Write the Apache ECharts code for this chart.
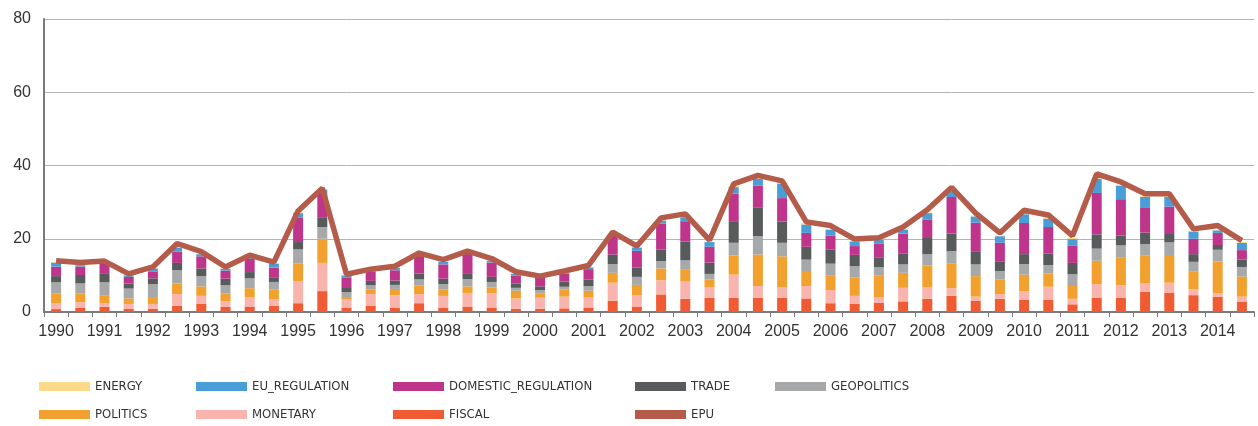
<!DOCTYPE html>
<html>
<head>
<meta charset="utf-8">
<script src="https://cdn.jsdelivr.net/npm/echarts@6/dist/echarts.min.js"></script>
<style>
html,body{margin:0;padding:0;background:#fff;}
#chart{width:1258px;height:426px;}
</style>
</head>
<body>
<div id="chart"></div>
<script>
var years = [1990,1991,1992,1993,1994,1995,1996,1997,1998,1999,2000,2001,2002,2003,2004,2005,2006,2007,2008,2009,2010,2011,2012,2013,2014];
var halves = ['H1','H2'];

var fiscal = [0.8,1.2,1.4,0.9,0.9,1.7,2.3,1.4,1.5,1.7, 2.4,5.7,1.2,1.7,1.2,2.4,1.2,1.5,1.2,0.9, 0.9,1.0,1.1,3.1,1.5,4.8,3.6,3.9,3.9,3.9, 3.9,3.7,2.4,2.3,2.5,2.9,3.6,4.4,3.1,3.6, 3.3,3.3,2.1,3.9,3.9,5.5,5.3,4.6,4.2,2.8];
var monetary = [1.6,1.5,1.0,1.3,1.3,3.2,2.1,1.6,2.6,1.7, 6.0,7.7,2.2,3.2,3.4,2.5,3.2,3.7,3.9,2.8, 3.0,3.2,3.0,4.9,3.1,3.9,4.7,2.9,6.3,3.2, 2.9,3.4,3.6,2.1,1.5,3.7,3.2,2.1,1.1,1.3, 2.4,3.6,1.5,3.7,3.4,2.3,2.7,1.6,0.9,1.4];
var politics = [2.7,2.4,2.2,1.5,1.9,2.9,2.6,2.1,2.4,2.7, 4.9,6.6,0.7,1.3,1.7,2.4,1.8,1.8,1.6,2.1, 1.2,2.0,1.7,2.7,2.8,3.2,3.4,2.1,5.2,8.6, 8.4,4.1,3.9,5.0,5.9,4.1,5.9,6.7,5.6,4.0, 4.5,3.6,3.5,6.4,7.5,7.7,7.3,4.8,8.7,5.5];
var geopolitics = [3.0,2.7,3.5,2.7,3.5,3.6,2.8,2.2,2.7,2.1, 3.8,3.2,1.3,1.1,1.1,1.6,1.4,2.0,1.5,0.8, 0.9,0.7,1.3,2.4,2.2,2.0,2.4,1.5,3.5,5.0, 3.7,3.1,3.3,3.1,2.3,2.3,3.1,3.4,3.2,2.3, 2.9,2.3,3.2,3.3,3.4,3.0,3.7,2.7,3.2,2.6];
var trade = [1.7,2.3,2.3,1.4,1.6,2.0,2.1,1.8,1.7,1.3, 2.0,2.5,1.4,1.2,1.2,1.6,1.5,1.4,1.4,1.2, 1.0,1.4,1.8,2.6,2.5,3.1,5.1,3.1,5.9,7.9, 5.8,3.5,3.8,3.1,2.6,2.9,4.4,4.8,3.6,2.5, 2.7,3.2,3.1,3.9,2.7,3.2,2.3,2.1,1.3,2.0];
var domesticRegulation = [2.6,2.3,3.1,1.8,1.9,3.1,3.3,2.2,3.6,2.6, 6.6,6.6,2.5,2.5,2.8,5.0,3.9,5.6,3.9,2.2, 2.3,2.2,2.8,5.3,4.6,7.1,5.6,4.3,7.5,5.9, 6.4,3.8,3.9,2.4,3.8,5.5,5.1,10.0,7.8,5.2, 8.5,7.2,4.8,11.3,9.9,6.9,7.5,4.2,3.3,2.6];
var euRegulation = [1.1,0.4,0.2,0.4,0.8,1.1,0.6,0.5,0.5,1.1, 1.3,1.1,0.7,0.3,0.7,0.2,0.7,0.3,0.5,0.4, 0.2,0.3,0.5,0.2,0.9,0.9,1.1,1.3,1.8,1.9, 4.0,2.3,1.6,1.3,1.2,1.1,1.7,1.4,1.7,1.8, 2.4,2.3,1.7,3.9,3.7,2.8,2.6,2.0,0.7,2.0];
var energy = [0.2,0.2,0.1,0.1,0.1,0.2,0.1,0.1,0.1,0.1, 0.2,0.2,0.1,0.1,0.1,0.1,0.1,0.1,0.1,0.1, 0.1,0.1,0.1,0.2,0.1,0.2,0.2,0.1,0.3,0.2, 0.3,0.3,0.2,0.2,0.2,0.2,0.2,0.3,0.2,0.2, 0.3,0.3,0.3,0.4,0.3,0.2,0.2,0.2,0.2,0.2];
var epu = [14.0,13.5,13.9,10.4,12.3,18.7,16.5,12.3,15.5,13.6, 27.6,33.8,10.3,11.7,12.5,16.1,14.3,16.6,14.6,11.0, 9.8,11.2,12.7,21.8,18.0,25.7,26.8,19.6,35.0,37.3, 35.8,24.6,23.6,19.9,20.3,23.2,27.9,34.0,27.0,21.6, 27.8,26.5,20.8,37.7,35.5,32.3,32.3,22.7,23.6,19.5];
var yTicks = [0,20,40,60,80];

var categories = [];
years.forEach(function(y){ halves.forEach(function(h){ categories.push(y + ' ' + h); }); });

var colors = {
  ENERGY:'#FDD98B', EU_REGULATION:'#4A9ED8', DOMESTIC_REGULATION:'#BF358C', TRADE:'#575B5B',
  GEOPOLITICS:'#A6A8AA', POLITICS:'#F3A12E', MONETARY:'#F9B4AD', FISCAL:'#F15B33', EPU:'#B45B4A'
};

var stackDefs = [
  ['FISCAL', fiscal], ['MONETARY', monetary], ['POLITICS', politics], ['GEOPOLITICS', geopolitics],
  ['TRADE', trade], ['DOMESTIC_REGULATION', domesticRegulation], ['EU_REGULATION', euRegulation], ['ENERGY', energy]
];

var series = stackDefs.map(function(d){
  return {name:d[0], type:'bar', stack:'epu', data:d[1], barWidth:10,
    itemStyle:{color:colors[d[0]]}, emphasis:{disabled:true}};
});
series.push({name:'EPU', type:'line', data:epu, symbol:'none', z:10,
  lineStyle:{color:colors.EPU, width:5.5}, itemStyle:{color:colors.EPU}, emphasis:{disabled:true}});

var legendFont = '"Liberation Sans Narrow","DejaVu Sans Condensed","Liberation Sans",sans-serif';
var legendPos = [
  ['ENERGY',39,380], ['EU_REGULATION',196,380], ['DOMESTIC_REGULATION',393,380], ['TRADE',635,380], ['GEOPOLITICS',775,380],
  ['POLITICS',39,408], ['MONETARY',196,408], ['FISCAL',393,408], ['EPU',635,408]
];
var legends = legendPos.map(function(p){
  return {data:[p[0]], left:p[1], top:p[2], padding:0, itemWidth:51, itemHeight:9, icon:'rect',
    selectedMode:false, itemGap:0,
    textStyle:{fontFamily:legendFont, fontSize:13, color:'#333'}};
});

var chart = echarts.init(document.getElementById('chart'), null, {renderer:'canvas'});
chart.setOption({
  animation:false,
  grid:{left:44, right:4, top:19, bottom:114, containLabel:false},
  legend:legends,
  xAxis:{type:'category', data:categories, boundaryGap:true,
    axisLine:{lineStyle:{color:'#7a7a7a', width:2}},
    axisTick:{show:true, interval:0, length:5, lineStyle:{color:'#7a7a7a', width:1}},
    axisLabel:{interval:1, margin:12, fontSize:16, color:'#333', fontFamily:'"Liberation Sans",sans-serif',
      formatter:function(v){ return v.split(' ')[0]; }}
  },
  yAxis:{type:'value', min:yTicks[0], max:yTicks[yTicks.length-1], interval:20,
    axisLine:{show:true, lineStyle:{color:'#7a7a7a', width:2}},
    axisTick:{show:false},
    splitLine:{lineStyle:{color:'#b5b5b5', width:1}},
    axisLabel:{margin:13, fontSize:16, color:'#333', fontFamily:'"Liberation Sans",sans-serif'}
  },
  series:series
});
</script>
</body>
</html>
